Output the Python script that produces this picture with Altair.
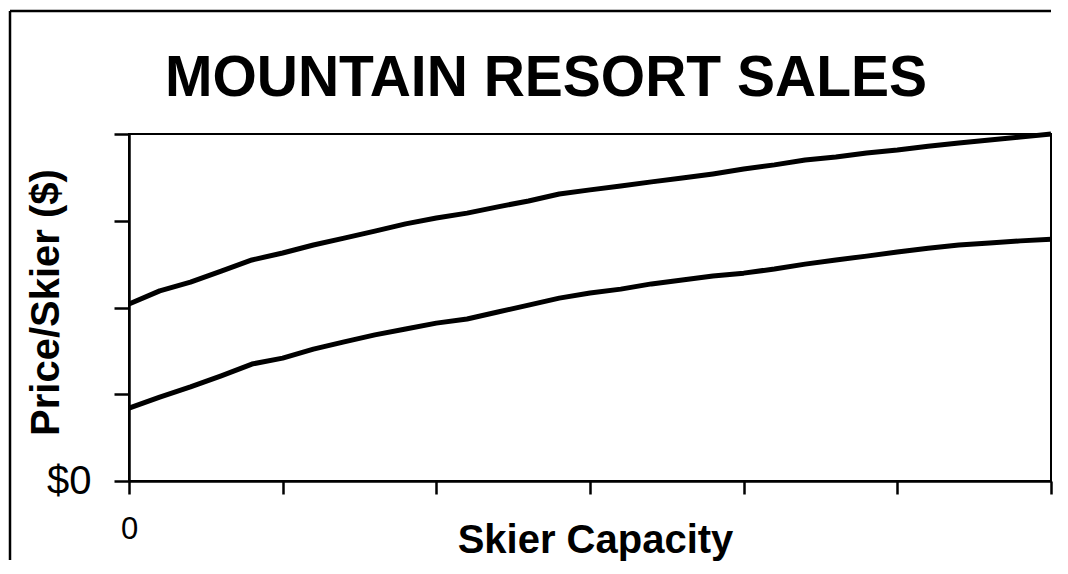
import altair as alt
import pandas as pd

# Skier capacity (x) positions and the two price curves
capacity = [0, 100, 200, 300, 400, 500, 600, 700, 800, 900, 1000,
            1100, 1200, 1300, 1400, 1500, 1600, 1700, 1800, 1900, 2000,
            2100, 2200, 2300, 2400, 2500, 2600, 2700, 2800, 2900, 3000]
upper_price = [51.0, 54.8, 57.3, 60.5, 63.7, 65.7, 68.0, 70.0, 72.0, 74.1, 75.8,
               77.2, 79.0, 80.7, 82.7, 83.9, 85.0, 86.2, 87.3, 88.5, 89.9,
               91.1, 92.5, 93.4, 94.5, 95.4, 96.5, 97.4, 98.3, 99.1, 100.0]
lower_price = [21.0, 24.2, 27.1, 30.3, 33.7, 35.4, 38.0, 40.1, 42.1, 43.8, 45.5,
               46.7, 48.7, 50.7, 52.7, 54.2, 55.3, 56.8, 57.9, 59.1, 59.9,
               61.1, 62.5, 63.7, 64.8, 66.0, 67.1, 68.0, 68.6, 69.2, 69.7]
series_names = ["Upper", "Lower"]

x_ticks = [0, 500, 1000, 1500, 2000, 2500, 3000]
y_ticks = [0, 25, 50, 75, 100]

chart_title = "MOUNTAIN RESORT SALES"
x_title = "Skier Capacity"
y_title = "Price/Skier ($)"

rows = []
for s, vals in zip(series_names, [upper_price, lower_price]):
    for c, v in zip(capacity, vals):
        rows.append({"series": s, "capacity": c, "price": v})
df = pd.DataFrame(rows)

W = 922
H = 347
FONT = "Liberation Sans"

lines = alt.Chart(df).mark_line(strokeWidth=5, color="black", strokeJoin="round").encode(
    x=alt.X("capacity:Q",
            scale=alt.Scale(domain=[0, 3000], nice=False, zero=False),
            axis=alt.Axis(values=x_ticks, labelExpr="datum.value == 0 ? '0' : ''",
                          labelFlush=False, labelOverlap=False,
                          tickSize=13, labelPadding=20, labelFontSize=31,
                          labelBaseline="top",
                          title=x_title, titleFontSize=40, titleFontWeight="bold",
                          titleBaseline="alphabetic", titleX=466, titleY=71,
                          titleAnchor="middle", titleAlign="center")),
    y=alt.Y("price:Q",
            scale=alt.Scale(domain=[0, 100], nice=False),
            axis=alt.Axis(values=y_ticks, labelExpr="datum.value == 0 ? '$0' : ''",
                          labelOverlap=False, labelFlush=False,
                          tickSize=15, labelPadding=23, labelFontSize=40,
                          title=y_title, titleFontSize=40, titleFontWeight="bold",
                          titleBaseline="alphabetic", titleAngle=270,
                          titleX=-71, titleY=168, titleAlign="center")),
    detail="series:N",
)

one = pd.DataFrame({"k": [0]})

border_left = alt.Chart(one).mark_rule(color="black", strokeWidth=2.5).encode(
    x=alt.value(-119), y=alt.value(-123), y2=alt.value(426)
)
border_top = alt.Chart(one).mark_rule(color="black", strokeWidth=2.5).encode(
    x=alt.value(-119), x2=alt.value(W), y=alt.value(-123)
)
title_text = alt.Chart(one).mark_text(
    font=FONT, fontSize=57, fontWeight="bold", color="black",
    align="center", baseline="alphabetic"
).encode(x=alt.value(417), y=alt.value(-38), text=alt.value(chart_title))

chart = alt.layer(border_left, border_top, title_text, lines).properties(
    width=W, height=H,
    padding={"left": 0, "top": 1, "right": 0, "bottom": 6},
    background="white",
).configure_view(
    stroke="black", strokeWidth=2
).configure_axis(
    grid=False,
    domainColor="black", domainWidth=2.5,
    tickColor="black", tickWidth=2.5,
    labelColor="black", titleColor="black",
    labelFont=FONT, titleFont=FONT,
)

chart.save("out.html", embed_options={"renderer": "svg", "actions": False})
